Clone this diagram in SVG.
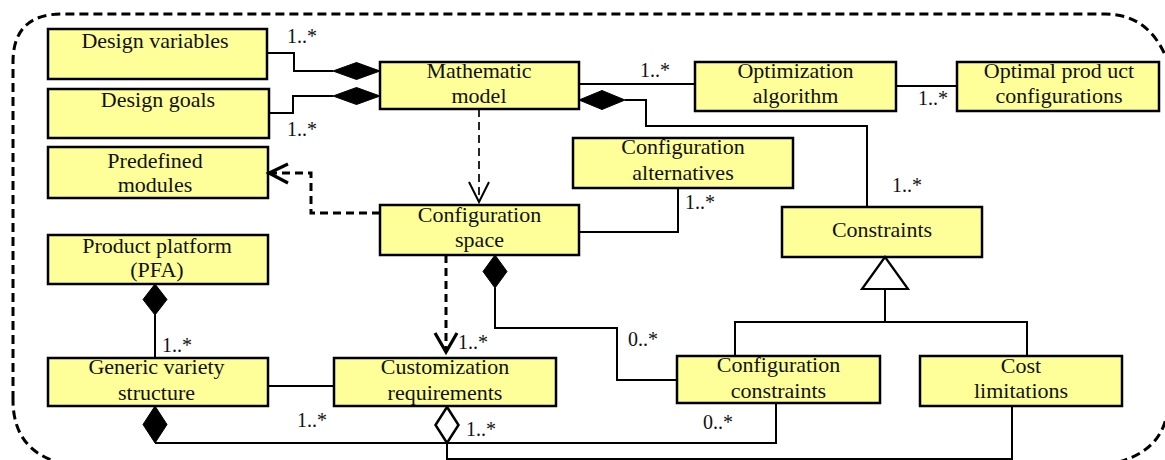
<svg xmlns="http://www.w3.org/2000/svg" width="1165" height="460" viewBox="0 0 1165 460">
<defs>
<style>
.box{fill:#FFFF99;stroke:#000;stroke-width:2.5}
.t{font-family:"Liberation Serif","Times New Roman","DejaVu Serif",serif;font-size:22px;fill:#111;text-anchor:middle}
.m{font-family:"Liberation Serif","Times New Roman","DejaVu Serif",serif;font-size:20px;fill:#111}
.ln{fill:none;stroke:#000;stroke-width:2}
.thin{fill:none;stroke:#000;stroke-width:1.7;stroke-dasharray:8 5}
.thick{fill:none;stroke:#000;stroke-width:3;stroke-dasharray:8 5}
.head{fill:none;stroke:#000;stroke-width:2}
.headb{fill:none;stroke:#000;stroke-width:3.2}
.fd{fill:#000;stroke:#000;stroke-width:1}
.hd{fill:#fff;stroke:#000;stroke-width:2.5}
.tri{fill:#fff;stroke:#000;stroke-width:2.2}
.border{fill:none;stroke:#000;stroke-width:3;stroke-dasharray:9 5}
</style>
</defs>
<rect width="1165" height="460" fill="#fff"/>
<path class="border" d="M 13 400 V 62 Q 13 14 62 14 H 1105 Q 1150 14 1168 62 V 405 Q 1165 455 1105 465 H 70 Q 13 455 13 400 Z"/>

<g id="design-variables"><rect class="box" x="48" y="29" width="219" height="50"/><text class="t" x="155" y="48">Design variables</text></g>
<g id="design-goals"><rect class="box" x="48" y="89" width="221" height="49"/><text class="t" x="158" y="107">Design goals</text></g>
<g id="mathematic-model"><rect class="box" x="380" y="62" width="199" height="47"/><text class="t" x="479" y="78">Mathematic</text><text class="t" x="479" y="103">model</text></g>
<g id="optimization-algorithm"><rect class="box" x="695" y="62" width="201" height="49"/><text class="t" x="795.5" y="78">Optimization</text><text class="t" x="795.5" y="103">algorithm</text></g>
<g id="optimal-product-configurations"><rect class="box" x="957" y="62" width="202" height="49"/><text class="t" x="1059" y="78">Optimal prod uct</text><text class="t" x="1059" y="103">configurations</text></g>
<g id="predefined-modules"><rect class="box" x="48" y="147" width="220" height="51"/><text class="t" x="155" y="168">Predefined</text><text class="t" x="155" y="192">modules</text></g>
<g id="configuration-alternatives"><rect class="box" x="573" y="138" width="220" height="50"/><text class="t" x="683" y="154">Configuration</text><text class="t" x="683" y="180">alternatives</text></g>
<g id="configuration-space"><rect class="box" x="380" y="205" width="199" height="50"/><text class="t" x="479.5" y="222">Configuration</text><text class="t" x="479.5" y="247">space</text></g>
<g id="constraints"><rect class="box" x="782" y="207" width="200" height="50"/><text class="t" x="882" y="237">Constraints</text></g>
<g id="product-platform"><rect class="box" x="48" y="235" width="220" height="49"/><text class="t" x="157" y="253">Product platform</text><text class="t" x="157" y="277">(PFA)</text></g>
<g id="generic-variety-structure"><rect class="box" x="48" y="358" width="220" height="48"/><text class="t" x="156.5" y="374">Generic variety</text><text class="t" x="156.5" y="400">structure</text></g>
<g id="customization-requirements"><rect class="box" x="334" y="358" width="222" height="48"/><text class="t" x="445" y="374">Customization</text><text class="t" x="445" y="400">requirements</text></g>
<g id="configuration-constraints"><rect class="box" x="677" y="356" width="203" height="47"/><text class="t" x="778.5" y="372">Configuration</text><text class="t" x="778.5" y="398">constraints</text></g>
<g id="cost-limitations"><rect class="box" x="920" y="356" width="202" height="50"/><text class="t" x="1021" y="373">Cost</text><text class="t" x="1021" y="398">limitations</text></g>

<g id="connectors">
<polyline class="ln" points="268,53 294,53 294,71 333,71"/>
<polygon class="fd" points="333,71 356.5,62.5 380,71 356.5,79.5"/>
<polyline class="ln" points="269,113 293,113 293,96 333,96"/>
<polygon class="fd" points="333,96 356.5,87.5 380,96 356.5,104.5"/>
<line class="ln" x1="579" y1="84" x2="695" y2="84"/>
<line class="ln" x1="896" y1="86" x2="957" y2="86"/>
<polygon class="fd" points="579,100 602,90.5 625,100 602,109.5"/>
<polyline class="ln" points="625,100 646,100 646,126 867,126 867,207"/>
<line class="thin" x1="479" y1="109" x2="479" y2="201"/>
<polyline class="head" points="469,182 479,202 489,182"/>
<polyline class="thick" points="380,213 311,213 311,173 270,173"/>
<polyline class="headb" points="288,164 269,173 288,183"/>
<polyline class="ln" points="579,232 678,232 678,188"/>
<polygon class="fd" points="495,255 507,271.5 495,288 483,271.5"/>
<polyline class="ln" points="495,288 495,328 617,328 617,380 677,380"/>
<line class="thick" x1="446" y1="255" x2="446" y2="350"/>
<polyline class="headb" points="435,333 446,352 457,333"/>
<polygon class="tri" points="885,257 908,289 862,289"/>
<polyline class="ln" points="885,289 885,322"/>
<polyline class="ln" points="735,356 735,322 1027,322 1027,356"/>
<polygon class="fd" points="155,284 167,299.5 155,315 143,299.5"/>
<line class="ln" x1="155" y1="315" x2="155" y2="358"/>
<line class="ln" x1="268" y1="386" x2="334" y2="386"/>
<polygon class="fd" points="155,406 167,424.5 155,443 143,424.5"/>
<polyline class="ln" points="155,443 776,443 776,403"/>
<polyline class="ln" points="447,443 447,459 1012,459 1012,406"/>
<polygon class="hd" points="447,407 458.5,425 447,443 435.5,425"/>
</g>

<g id="labels">
<text class="m" x="287" y="43">1..*</text>
<text class="m" x="287" y="136">1..*</text>
<text class="m" x="640" y="77">1..*</text>
<text class="m" x="918" y="105">1..*</text>
<text class="m" x="685" y="209">1..*</text>
<text class="m" x="892" y="192">1..*</text>
<text class="m" x="162" y="352">1..*</text>
<text class="m" x="297" y="427">1..*</text>
<text class="m" x="458" y="349">1..*</text>
<text class="m" x="466" y="436">1..*</text>
<text class="m" x="628" y="346">0..*</text>
<text class="m" x="703" y="429">0..*</text>
</g>
</svg>
